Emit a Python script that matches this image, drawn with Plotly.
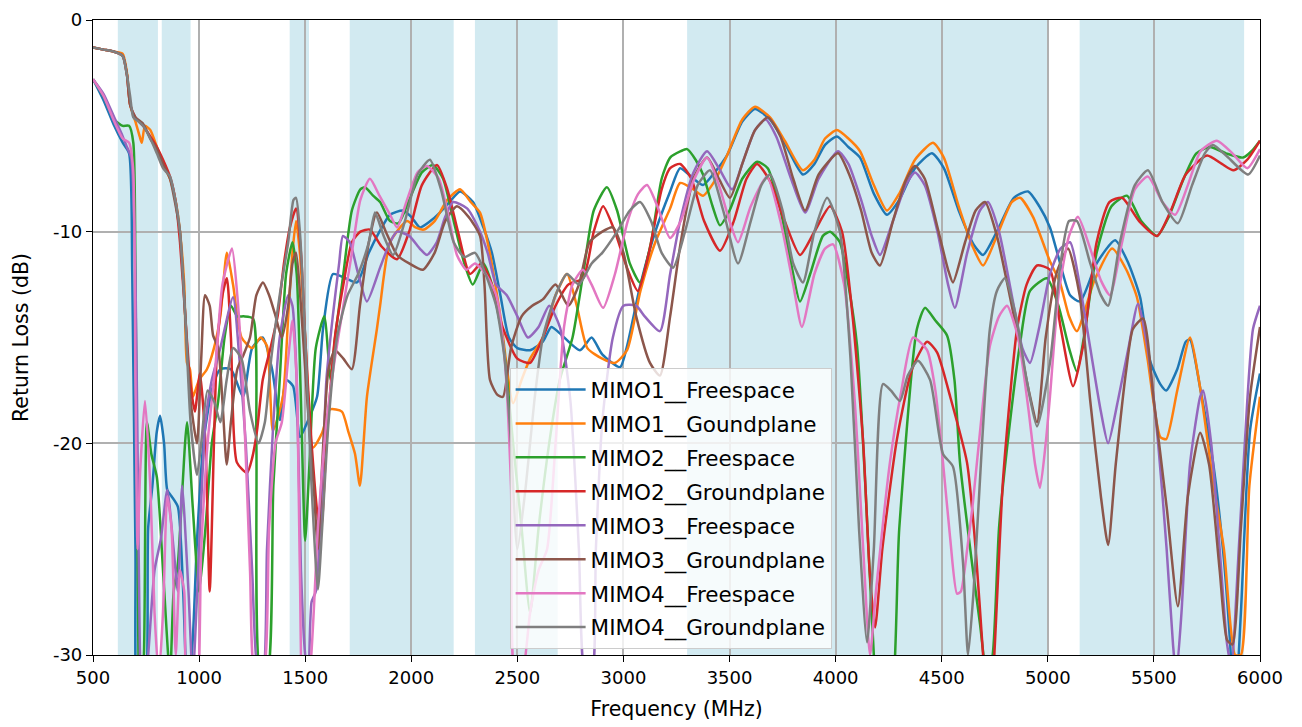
import plotly.graph_objects as go

# Shaded frequency bands (MHz)
band_start = [617, 824, 1427, 1710, 2300, 3300, 5150]
band_end = [806, 960, 1518, 2200, 2690, 5000, 5925]

x_ticks = [500, 1000, 1500, 2000, 2500, 3000, 3500, 4000, 4500, 5000, 5500, 6000]
y_ticks = [0, -10, -20, -30]
y_tick_labels = ["0", "-10", "-20", "-30"]

# (frequency MHz, return loss dB)
mimo1_freespace = [
    (500, -2.8), (550, -3.8), (600, -5.0), (640, -5.8), (670, -6.3), (685, -12), (700, -25), (715, -33),
    (740, -33), (760, -24), (780, -22), (800, -19.5), (816, -18.7), (835, -20), (850, -22.2), (870, -22.5),
    (900, -23), (925, -27), (943, -31), (965, -30), (990, -24.6), (1020, -20), (1060, -17.5), (1100, -16.5),
    (1150, -16.5), (1207, -17.8), (1250, -15.5), (1300, -15), (1344, -16.5), (1381, -18.9), (1410, -17),
    (1443, -17.3), (1476, -19.7), (1510, -19), (1556, -17.8), (1584, -14.6), (1631, -12), (1690, -12.2),
    (1744, -12.4), (1800, -11), (1850, -10), (1900, -9.2), (1961, -9), (2000, -9.3), (2041, -9.8),
    (2090, -9.5), (2135, -9.1), (2180, -8.6), (2230, -8.1), (2291, -8.6), (2340, -9.8), (2380, -11),
    (2420, -13), (2460, -15), (2500, -15.5), (2560, -15.6), (2620, -15.2), (2660, -14.5), (2700, -14.8),
    (2795, -15.6), (2850, -15), (2900, -15.8), (2984, -16.4), (3017, -15.4), (3080, -12.5), (3150, -10),
    (3220, -8.1), (3267, -7.0), (3330, -7.5), (3375, -7.8), (3430, -7.2), (3488, -6.4), (3560, -4.8),
    (3620, -4.2), (3691, -4.7), (3760, -5.8), (3846, -7.3), (3900, -6.8), (3950, -5.9), (4006, -5.5),
    (4060, -6.0), (4115, -6.5), (4180, -8.2), (4242, -9.2), (4300, -8.5), (4374, -7.0), (4454, -6.3),
    (4510, -7.0), (4580, -9.0), (4650, -10.6), (4695, -11.1), (4760, -10.0), (4840, -8.4), (4907, -8.1),
    (4960, -8.8), (5010, -9.8), (5050, -11.2), (5105, -13), (5152, -13.3), (5230, -11.5), (5317, -10.4),
    (5380, -11.5), (5435, -13.1), (5482, -16.1), (5530, -17.2), (5558, -17.5), (5610, -16.5), (5650, -15.2),
    (5670, -15.1), (5720, -17.5), (5780, -21), (5830, -25.5), (5859, -29.4), (5880, -33), (5910, -28),
    (5953, -19.4), (6000, -16.7),
]

mimo1_groundplane = [
    (500, -1.3), (550, -1.4), (600, -1.5), (640, -1.6), (660, -2.5), (675, -4.0), (700, -4.8), (720, -5.5),
    (730, -5.8), (745, -5.0), (770, -5.2), (801, -6.0), (830, -6.8), (863, -7.5), (890, -8.6), (910, -10),
    (930, -12.5), (943, -16.2), (957, -16.5), (971, -17.8), (1000, -17), (1037, -16.5), (1070, -15.5),
    (1100, -14), (1131, -11), (1160, -12.5), (1200, -15), (1250, -15.5), (1290, -15), (1320, -15.4),
    (1348, -19.4), (1395, -17.8), (1420, -14), (1440, -11), (1457, -9.5), (1475, -11), (1500, -15),
    (1537, -20.2), (1580, -19.5), (1617, -18.4), (1673, -18.5), (1702, -19.4), (1735, -20.5), (1758, -22),
    (1791, -17.8), (1838, -14.6), (1853, -13.5), (1900, -10.5), (1980, -9.5), (2020, -9.8), (2060, -9.9),
    (2110, -9.5), (2170, -8.5), (2230, -8.0), (2280, -8.6), (2324, -9.1), (2370, -11), (2420, -14),
    (2480, -18.1), (2520, -17), (2560, -16), (2620, -15), (2680, -13), (2734, -12), (2780, -13.5),
    (2830, -15.5), (2900, -16), (2960, -16.2), (3017, -15.6), (3080, -12.8), (3150, -10.5), (3220, -8.9),
    (3267, -7.7), (3330, -8.0), (3375, -8.3), (3430, -7.6), (3488, -6.4), (3560, -4.7), (3620, -4.1),
    (3691, -4.6), (3760, -5.7), (3846, -7.1), (3900, -6.6), (3950, -5.6), (4006, -5.2), (4060, -5.6),
    (4115, -6.2), (4180, -7.8), (4242, -9.0), (4300, -8.2), (4374, -6.6), (4459, -5.8), (4510, -6.5),
    (4580, -8.8), (4650, -10.8), (4695, -11.6), (4760, -10.2), (4830, -8.6), (4869, -8.4), (4930, -9.3),
    (5010, -11.4), (5057, -12.4), (5100, -14), (5137, -14.7), (5220, -12.3), (5303, -10.8), (5370, -11.8),
    (5420, -13.1), (5470, -16), (5530, -19.7), (5558, -19.8), (5610, -17.5), (5670, -15.0), (5720, -17.5),
    (5780, -21.9), (5830, -25), (5883, -30), (5910, -30), (5950, -22), (6000, -17.8),
]

mimo2_freespace = [
    (500, -2.8), (550, -3.6), (600, -4.7), (640, -5.0), (670, -5.0), (690, -5.8), (700, -12), (710, -25),
    (720, -33), (740, -30), (754, -19), (775, -20.5), (801, -21.6), (830, -26), (863, -31), (880, -27),
    (900, -25.7), (943, -19), (970, -23), (1000, -27), (1030, -24), (1060, -20), (1090, -18), (1120, -15),
    (1150, -13.5), (1180, -14), (1210, -14), (1254, -14.1), (1270, -20), (1290, -31), (1320, -31),
    (1350, -22), (1380, -17), (1410, -12), (1440, -10.5), (1460, -12), (1480, -18), (1500, -24.6),
    (1520, -21), (1550, -15.5), (1590, -14), (1620, -17), (1641, -15), (1680, -12), (1720, -9), (1760, -8.0),
    (1782, -7.9), (1820, -8.3), (1853, -8.6), (1900, -9.5), (1940, -9.6), (1990, -8.5), (2050, -7.2),
    (2102, -6.85), (2150, -7.5), (2200, -9.5), (2250, -11.5), (2290, -12.5), (2340, -11.5), (2380, -12.5),
    (2430, -15), (2480, -20), (2520, -24), (2560, -28), (2600, -24), (2650, -20), (2700, -17), (2760, -15),
    (2810, -12), (2860, -9), (2922, -7.9), (2970, -9), (3030, -11.5), (3078, -12.4), (3130, -10.5),
    (3180, -7.5), (3220, -6.5), (3270, -6.2), (3300, -6.1), (3340, -6.6), (3375, -7.3), (3420, -8.8),
    (3455, -9.7), (3500, -9.0), (3560, -7.5), (3630, -6.7), (3680, -7.0), (3740, -9), (3790, -11.5),
    (3832, -13.3), (3880, -12), (3940, -10.2), (3974, -10.0), (4020, -10.5), (4060, -12.5), (4101, -15.4),
    (4140, -22), (4180, -30), (4200, -33), (4250, -33), (4300, -24), (4383, -14.6), (4421, -13.6),
    (4470, -14.2), (4525, -14.9), (4560, -17), (4586, -20.9), (4647, -26), (4680, -28.5), (4713, -31),
    (4740, -30), (4770, -24), (4808, -20.2), (4869, -15.3), (4916, -12.8), (4996, -12.2), (5050, -13.5),
    (5100, -15.5), (5137, -16.6), (5170, -15), (5230, -11), (5300, -8.8), (5373, -8.3), (5440, -9.5),
    (5515, -10.2), (5570, -9.3), (5640, -7.5), (5700, -6.3), (5764, -6.0), (5840, -6.3), (5920, -6.5),
    (5960, -6.2), (6000, -5.7),
]

mimo2_groundplane = [
    (500, -1.3), (550, -1.4), (600, -1.5), (640, -1.7), (660, -2.6), (675, -4.0), (700, -4.6), (736, -5.0),
    (770, -5.5), (801, -6.0), (830, -6.6), (863, -7.4), (890, -8.6), (910, -10.5), (935, -14), (957, -17),
    (980, -18.5), (1004, -16.7), (1030, -20), (1050, -27), (1070, -20), (1085, -15.4), (1110, -13),
    (1131, -12.2), (1150, -15), (1178, -20.9), (1226, -21.4), (1250, -20.7), (1273, -19.4), (1300, -17),
    (1334, -15.6), (1370, -14), (1400, -11.5), (1428, -9.8), (1457, -8.9), (1480, -11), (1500, -15),
    (1530, -20), (1560, -23.5), (1575, -24), (1600, -20), (1640, -15), (1680, -12.5), (1720, -10.5),
    (1760, -10), (1805, -9.9), (1860, -10.7), (1933, -11.3), (1990, -10), (2050, -7.8), (2121, -6.85),
    (2170, -8), (2220, -10), (2277, -12), (2330, -11.5), (2380, -12.5), (2430, -14.5), (2500, -16),
    (2560, -16.2), (2620, -15), (2680, -13.5), (2740, -12.5), (2810, -12.2), (2860, -10), (2904, -8.8),
    (2960, -10), (3020, -11.8), (3068, -12.8), (3120, -11), (3180, -8), (3220, -7.0), (3267, -6.8),
    (3320, -7.5), (3380, -9.5), (3455, -10.9), (3520, -9.5), (3580, -7.5), (3630, -6.8), (3690, -7.6),
    (3760, -9.5), (3832, -11.1), (3900, -10), (3974, -8.8), (4030, -10), (4080, -14), (4130, -20),
    (4160, -26), (4186, -28.7), (4220, -25), (4289, -19.8), (4360, -16.5), (4431, -15.2), (4478, -15.7),
    (4540, -17.8), (4619, -20.9), (4660, -25), (4695, -30), (4720, -33), (4742, -31), (4789, -21.7),
    (4855, -14.6), (4900, -12.5), (4949, -11.6), (5010, -11.8), (5060, -14.5), (5119, -17.3), (5166, -15.4),
    (5230, -10.5), (5290, -8.6), (5350, -8.4), (5430, -9.5), (5515, -10.2), (5580, -9.0), (5650, -7.3),
    (5750, -6.4), (5820, -6.8), (5875, -7.1), (5940, -6.6), (6000, -5.7),
]

mimo3_freespace = [
    (500, -2.8), (550, -3.5), (600, -4.6), (640, -5.5), (660, -6.0), (680, -6.5), (700, -12), (715, -25),
    (730, -33), (760, -30), (790, -26), (820, -24.5), (850, -22.2), (880, -25), (900, -27), (920, -22),
    (950, -27), (970, -31), (1000, -25), (1030, -19), (1060, -17), (1100, -15.5), (1160, -13.1), (1190, -16),
    (1220, -20), (1250, -26), (1280, -31), (1300, -31), (1320, -25), (1350, -19), (1380, -15), (1420, -13),
    (1440, -13.5), (1460, -17), (1480, -26), (1500, -30), (1515, -31), (1530, -27.5), (1550, -27),
    (1580, -22), (1600, -17), (1630, -14), (1660, -11.5), (1678, -10.2), (1710, -10.5), (1750, -12),
    (1791, -13.3), (1853, -11.7), (1900, -10.5), (1933, -10.0), (1990, -10.2), (2040, -10.8), (2074, -11.1),
    (2120, -10.5), (2160, -9.3), (2197, -8.6), (2263, -8.9), (2324, -10), (2360, -11), (2400, -12.5),
    (2450, -13), (2500, -14), (2550, -15), (2600, -14.5), (2650, -13.5), (2700, -14.5), (2750, -18),
    (2790, -25), (2820, -31), (2850, -31), (2870, -25), (2900, -19), (2950, -15), (3000, -13.5),
    (3060, -13.5), (3100, -14), (3172, -14.7), (3220, -12), (3267, -9.5), (3330, -7.2), (3394, -6.2),
    (3450, -7.0), (3512, -8.0), (3570, -6.5), (3620, -5.2), (3670, -4.7), (3720, -5.5), (3790, -7.5),
    (3856, -9.1), (3920, -7.5), (4011, -6.2), (4060, -6.8), (4120, -8.5), (4170, -10.2), (4209, -11.1),
    (4270, -9.5), (4330, -7.8), (4374, -7.2), (4420, -7.8), (4480, -10), (4530, -12.5), (4562, -13.6),
    (4620, -11), (4680, -9), (4718, -8.6), (4770, -10), (4830, -13), (4880, -15.5), (4916, -16.2),
    (4960, -14.5), (5010, -12), (5060, -10.8), (5105, -10.5), (5150, -12.5), (5200, -15.5), (5250, -18.5),
    (5284, -20), (5330, -18), (5380, -15.5), (5425, -13.4), (5470, -15.5), (5520, -20), (5560, -25),
    (5590, -29.5), (5605, -31), (5630, -28), (5670, -21), (5718, -17.8), (5732, -17.5), (5770, -20),
    (5810, -25), (5845, -29.5), (5865, -30.5), (5900, -25), (5940, -18), (5967, -14.6), (6000, -13.5),
]

mimo3_groundplane = [
    (500, -1.3), (550, -1.4), (600, -1.5), (640, -1.7), (660, -2.6), (675, -4.0), (700, -4.6), (736, -4.9),
    (770, -5.6), (801, -6.1), (830, -6.8), (863, -7.5), (890, -8.8), (910, -10), (935, -14), (960, -18),
    (990, -20), (1010, -16), (1028, -13), (1050, -13.5), (1066, -14.9), (1090, -15.5), (1110, -18),
    (1130, -21), (1150, -19), (1180, -16.5), (1210, -15.8), (1240, -15), (1270, -13), (1301, -12.4),
    (1330, -13), (1358, -13.9), (1390, -15), (1420, -13.5), (1440, -11.5), (1457, -11), (1480, -13.5),
    (1510, -18), (1540, -22), (1560, -25), (1580, -21), (1610, -16.5), (1640, -15.6), (1680, -16),
    (1720, -16.5), (1758, -13.5), (1800, -10.5), (1838, -9.1), (1880, -10), (1933, -11.1), (1990, -11.5),
    (2055, -11.8), (2110, -11), (2160, -9.5), (2215, -8.8), (2270, -9.3), (2324, -10.2), (2345, -12.5),
    (2371, -17), (2405, -17.7), (2432, -17.8), (2470, -15.5), (2520, -14), (2570, -13.5), (2620, -13.2),
    (2680, -12.5), (2740, -13.5), (2790, -12.5), (2840, -10.5), (2900, -10), (2950, -9.8), (3000, -11),
    (3060, -14), (3125, -16.2), (3172, -16.8), (3220, -14), (3270, -10.5), (3330, -7.5), (3394, -6.5),
    (3450, -7.5), (3502, -8.4), (3560, -6.8), (3620, -5.2), (3681, -4.6), (3740, -5.5), (3800, -7.5),
    (3856, -9.0), (3920, -7.3), (4011, -6.3), (4060, -7.2), (4120, -9), (4170, -11), (4209, -11.6),
    (4270, -9.5), (4330, -7.6), (4374, -6.9), (4420, -7.5), (4480, -9.8), (4530, -11.8), (4553, -12.4),
    (4610, -10.5), (4660, -9), (4704, -8.6), (4760, -10.2), (4820, -13), (4869, -15.4), (4910, -17.5),
    (4949, -19), (4990, -15), (5040, -12), (5095, -10.8), (5150, -13), (5200, -18), (5250, -22.5),
    (5284, -24.8), (5320, -21), (5370, -16.5), (5401, -14.6), (5449, -14.1), (5500, -18), (5560, -23),
    (5613, -27.7), (5660, -22.5), (5718, -19.5), (5760, -21), (5810, -26), (5845, -29.3), (5870, -29.5),
    (5910, -24), (5953, -17.8), (6000, -14.5),
]

mimo4_freespace = [
    (500, -2.8), (550, -3.6), (600, -4.8), (640, -5.6), (670, -5.8), (689, -7), (700, -17), (710, -25),
    (722, -21.4), (745, -18), (770, -22), (790, -28), (810, -31), (830, -28), (850, -22.5), (870, -24),
    (890, -30), (910, -26), (930, -27), (950, -33), (980, -33), (1010, -25), (1040, -20), (1080, -16),
    (1110, -12.5), (1155, -10.8), (1180, -13), (1210, -18), (1240, -26), (1265, -31), (1300, -31),
    (1330, -24), (1360, -20), (1390, -19), (1420, -16), (1440, -14.2), (1460, -17), (1475, -26),
    (1490, -32), (1520, -31), (1560, -24), (1600, -19), (1640, -16), (1680, -13.5), (1720, -11),
    (1760, -8.5), (1805, -7.5), (1850, -8.3), (1900, -9.2), (1933, -9.8), (1980, -8.5), (2030, -7.2),
    (2074, -6.9), (2130, -7.5), (2180, -9.5), (2215, -11.1), (2260, -11.8), (2300, -11.5), (2350, -12),
    (2400, -13), (2440, -16), (2470, -22), (2490, -31), (2520, -31), (2560, -28), (2600, -26), (2640, -25),
    (2680, -20), (2720, -14.5), (2760, -12.5), (2809, -11.8), (2850, -12.5), (2904, -13.6), (2960, -12),
    (3020, -9.5), (3070, -8.2), (3111, -7.8), (3160, -8.8), (3220, -10.3), (3270, -9.5), (3330, -7.6),
    (3394, -6.5), (3450, -7.8), (3500, -9.5), (3540, -10.5), (3600, -8.8), (3676, -7.4), (3740, -9.5),
    (3800, -12.5), (3841, -14.5), (3900, -12), (3950, -10.8), (3988, -10.6), (4040, -12.5), (4090, -18),
    (4130, -25), (4162, -30), (4190, -27), (4256, -20.9), (4310, -17.5), (4365, -15), (4431, -15.6),
    (4470, -17.5), (4506, -20.9), (4540, -24.5), (4572, -27.1), (4590, -27), (4620, -25), (4647, -22.8),
    (4690, -18.5), (4727, -15.4), (4770, -14), (4808, -13.5), (4860, -15), (4910, -18.5), (4940, -21),
    (4963, -22.1), (4990, -20), (5010, -17.8), (5050, -13), (5100, -10.2), (5142, -9.3), (5200, -10.8),
    (5250, -12.3), (5293, -13), (5350, -10.5), (5410, -8), (5472, -7.4), (5540, -8.6), (5600, -9.2),
    (5660, -7.8), (5720, -6.2), (5797, -5.7), (5870, -6.3), (5940, -7.0), (6000, -6.1),
]

mimo4_groundplane = [
    (500, -1.3), (550, -1.4), (600, -1.5), (640, -1.7), (660, -2.6), (675, -3.6), (690, -4.6), (715, -4.8),
    (736, -5.0), (770, -5.6), (801, -6.3), (830, -7.0), (863, -7.4), (890, -8.6), (910, -10), (935, -14),
    (960, -19), (990, -21.5), (1010, -20), (1040, -17.5), (1070, -18), (1100, -19), (1130, -17),
    (1160, -15.5), (1200, -16), (1240, -18.5), (1280, -20), (1310, -19), (1340, -16), (1380, -13),
    (1420, -10.5), (1445, -8.5), (1457, -8.4), (1475, -10), (1500, -15), (1530, -22), (1560, -26.9),
    (1580, -24), (1610, -19), (1650, -15), (1700, -13), (1750, -12), (1800, -10.5), (1829, -9.1),
    (1870, -10.2), (1914, -11.1), (1970, -9.5), (2030, -7.3), (2088, -6.6), (2140, -8), (2200, -10.5),
    (2250, -11.2), (2300, -11), (2350, -12), (2400, -13.5), (2440, -16), (2470, -20), (2500, -25),
    (2540, -22), (2580, -18), (2620, -15), (2680, -13), (2734, -12.0), (2790, -12.5), (2850, -11.5),
    (2900, -11), (2970, -10), (3030, -9), (3078, -8.6), (3130, -9.5), (3180, -11), (3234, -11.7),
    (3290, -10), (3350, -7.8), (3408, -7.1), (3470, -9), (3540, -11.5), (3600, -9.5), (3650, -7.8),
    (3691, -7.3), (3750, -9), (3800, -11.5), (3846, -12.4), (3900, -10), (3960, -8.4), (4020, -10),
    (4070, -16), (4110, -24), (4148, -29.4), (4180, -25), (4223, -17.2), (4260, -17.5), (4303, -18),
    (4340, -16.8), (4388, -16.1), (4445, -17), (4506, -20.5), (4553, -21.1), (4600, -25.6), (4624, -30),
    (4650, -27), (4690, -20), (4727, -14.6), (4760, -12.8), (4798, -12.2), (4850, -14), (4900, -17),
    (4949, -19.2), (5010, -16.2), (5060, -11.5), (5100, -9.5), (5137, -9.5), (5200, -11.5), (5250, -13),
    (5284, -13.5), (5340, -10.5), (5410, -7.8), (5472, -7.1), (5540, -8.6), (5613, -9.6), (5680, -7.8),
    (5740, -6.3), (5778, -5.9), (5850, -6.5), (5944, -7.3), (6000, -6.4),
]

series_names = [
    "MIMO1__Freespace", "MIMO1__Goundplane", "MIMO2__Freespace", "MIMO2__Groundplane",
    "MIMO3__Freespace", "MIMO3__Groundplane", "MIMO4__Freespace", "MIMO4__Groundplane",
]
series_data = [
    mimo1_freespace, mimo1_groundplane, mimo2_freespace, mimo2_groundplane,
    mimo3_freespace, mimo3_groundplane, mimo4_freespace, mimo4_groundplane,
]
series_colors = ["#1f77b4", "#ff7f0e", "#2ca02c", "#d62728", "#9467bd", "#8c564b", "#e377c2", "#7f7f7f"]

fig = go.Figure()

for name, data, color in zip(series_names, series_data, series_colors):
    fx = [p[0] for p in data]
    fy = [p[1] for p in data]
    fig.add_trace(go.Scatter(
        x=fx, y=fy, mode="lines", name=name, legendgroup=name,
        line=dict(color=color, width=2.5, shape="spline", smoothing=0.6),
    ))

for b0, b1 in zip(band_start, band_end):
    fig.add_shape(type="rect", xref="x", yref="paper", x0=b0, x1=b1, y0=0, y1=1,
                  fillcolor="rgba(173,216,230,0.55)", line_width=0, layer="below")

axis_common = dict(
    showgrid=True, gridcolor="#b0b0b0", gridwidth=1.5,
    showline=True, linecolor="black", linewidth=1.2, mirror=True,
    ticks="outside", ticklen=6, tickwidth=1.2, tickcolor="black",
    tickfont=dict(family="DejaVu Sans", size=18, color="black"),
    zeroline=False, automargin=False,
)

fig.update_layout(
    width=1302, height=727,
    margin=dict(l=85, r=50, t=12, b=80),
    paper_bgcolor="white", plot_bgcolor="white",
    font=dict(family="DejaVu Sans", size=18, color="black"),
    showlegend=True,
    legend=dict(
        x=0.357, y=0.452, xanchor="left", yanchor="top",
        bgcolor="rgba(255,255,255,0.8)", bordercolor="#cccccc", borderwidth=1,
        font=dict(family="DejaVu Sans", size=21.5, color="black"),
        tracegroupgap=3, itemwidth=70,
    ),
    xaxis=dict(range=[500, 6000], tickvals=x_ticks,
               title=dict(text="Frequency (MHz)", standoff=14, font=dict(size=20.5)), **axis_common),
    yaxis=dict(range=[-30, 0], tickvals=y_ticks, ticktext=y_tick_labels,
               title=dict(text="Return Loss (dB)", standoff=18, font=dict(size=20.5)), **axis_common),
)

fig.write_html("out.html")
